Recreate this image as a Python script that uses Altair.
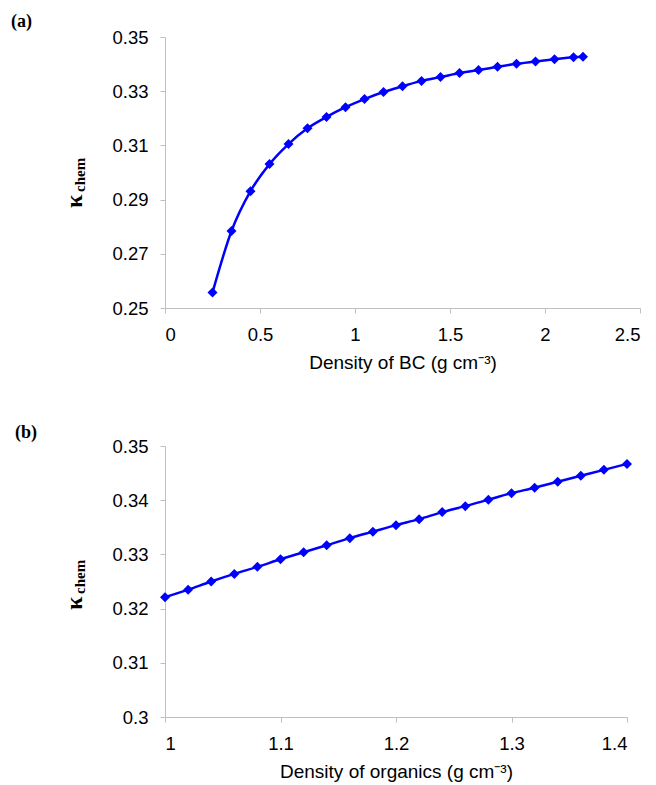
import altair as alt
import pandas as pd

# Panel (a): density of BC vs kappa_chem
bc_density = [0.25, 0.35, 0.45, 0.55, 0.65, 0.75, 0.85, 0.95, 1.05, 1.15, 1.25,
              1.35, 1.45, 1.55, 1.65, 1.75, 1.85, 1.95, 2.05, 2.15, 2.2]
bc_kappa = [0.2557, 0.2784, 0.2931, 0.3031, 0.3105, 0.3163, 0.3205, 0.3241,
            0.3271, 0.3297, 0.3318, 0.3338, 0.3352, 0.3367, 0.3378, 0.3390,
            0.3401, 0.3410, 0.3418, 0.3425, 0.3427]

# Panel (b): density of organics vs kappa_chem
org_density = [1.00, 1.02, 1.04, 1.06, 1.08, 1.10, 1.12, 1.14, 1.16, 1.18, 1.20,
               1.22, 1.24, 1.26, 1.28, 1.30, 1.32, 1.34, 1.36, 1.38, 1.40]
org_kappa = [0.3221, 0.3235, 0.3250, 0.3264, 0.3277, 0.3291, 0.3304, 0.3317,
             0.3330, 0.3342, 0.3354, 0.3365, 0.3378, 0.3389, 0.3401, 0.3413,
             0.3423, 0.3434, 0.3445, 0.3456, 0.3467]

x_ticks_a = [0, 0.5, 1, 1.5, 2, 2.5]
y_ticks_a = [0.25, 0.27, 0.29, 0.31, 0.33, 0.35]
x_ticks_b = [1, 1.1, 1.2, 1.3, 1.4]
y_ticks_b = [0.30, 0.31, 0.32, 0.33, 0.34, 0.35]

BLUE = "#0000FF"
SANS = "Liberation Sans"
SERIF = "Liberation Serif"


def panel(xs, ys, xtitle, xdom, xticks, ydom, yticks, width, label,
          label_dx, label_dy, kappa_y):
    df = pd.DataFrame({"x": xs, "y": ys})
    xenc = alt.X("x:Q", title=xtitle,
                 scale=alt.Scale(domain=xdom, nice=False, zero=False),
                 axis=alt.Axis(values=xticks, format=".1~f"))
    yenc = alt.Y("y:Q", title=None,
                 scale=alt.Scale(domain=ydom, nice=False, zero=False),
                 axis=alt.Axis(values=yticks, format=".2~f"))
    base = alt.Chart(df)
    line = base.mark_line(color=BLUE, strokeWidth=2.5,
                          interpolate="monotone").encode(x=xenc, y=yenc)
    pts = base.mark_point(shape="diamond", filled=True, color=BLUE,
                          size=100, opacity=1).encode(x=xenc, y=yenc)
    one = pd.DataFrame({"k": [0]})
    kappa = alt.Chart(one).mark_text(
        text="κ", font=SERIF, fontWeight="bold", fontSize=24, angle=270,
        align="left", baseline="alphabetic", color="black"
    ).encode(x=alt.value(-83), y=alt.value(kappa_y))
    chem = alt.Chart(one).mark_text(
        text="chem", font=SERIF, fontWeight="bold", fontSize=15, angle=270,
        align="left", baseline="alphabetic", color="black"
    ).encode(x=alt.value(-80), y=alt.value(kappa_y - 16))
    lab = alt.Chart(one).mark_text(
        text=label, font=SERIF, fontWeight="bold", fontSize=18,
        align="left", baseline="alphabetic", color="black"
    ).encode(x=alt.value(label_dx), y=alt.value(label_dy))
    return alt.layer(line, pts, kappa, chem, lab).properties(
        width=width, height=271)


a = panel(bc_density, bc_kappa, "Density of BC (g cm⁻³)", [0, 2.5], x_ticks_a,
          [0.25, 0.35], y_ticks_a, 475, "(a)", -154, -10, 171)
b = panel(org_density, org_kappa, "Density of  organics (g cm⁻³)", [1, 1.4],
          x_ticks_b, [0.30, 0.35], y_ticks_b, 462, "(b)", -150, -8, 164)

chart = alt.vconcat(a, b, spacing=51).properties(
    padding={"left": 11, "top": 13, "right": 5, "bottom": 0},
    background="white",
).configure_view(stroke=None).configure_axis(
    grid=False,
    domainColor="#BFBFBF",
    tickColor="#BFBFBF",
    tickSize=5,
    labelFont=SANS,
    labelFontSize=18.5,
    labelColor="black",
    labelPadding=12,
    titleFont=SANS,
    titleFontSize=19,
    titleFontWeight="normal",
    titleColor="black",
    titlePadding=10,
)

chart.save("out.html", embed_options={"renderer": "svg", "actions": False})
